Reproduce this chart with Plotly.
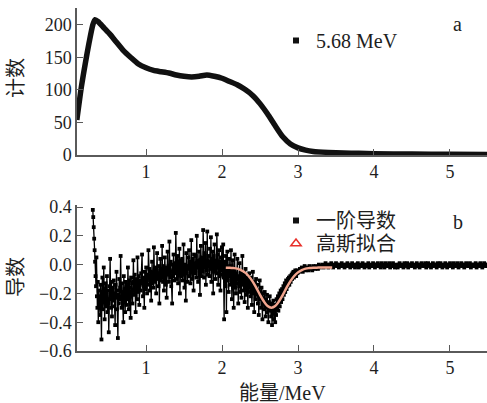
import numpy as np
import plotly.graph_objects as go

# ---- panel a: counts spectrum ----
count_energy = [0.09, 0.15, 0.20, 0.25, 0.30, 0.33, 0.37, 0.45, 0.53, 0.60, 0.70, 0.80, 0.90,
                1.00, 1.10, 1.20, 1.30, 1.40, 1.50, 1.60, 1.70, 1.80, 1.90, 2.00, 2.10, 2.20,
                2.30, 2.40, 2.50, 2.60, 2.70, 2.80, 2.90, 3.00, 3.10, 3.20, 3.40, 3.60, 3.80,
                4.00, 4.50, 5.00, 5.50]
counts = [54, 105, 140, 172, 200, 208, 205, 195, 185, 175, 161, 150, 140,
          134, 130, 128, 126, 123, 121, 120, 121, 123, 121, 118, 113, 108,
          101, 92, 79, 63, 45, 28, 17, 11, 7.5, 5.5, 4, 3, 2.5,
          2, 1.5, 1, 0.8]

# ---- panel b: first derivative (noisy region, 0.006 MeV channels) ----
deriv_low_start, deriv_low_step = 0.30, 0.006
deriv_low = [
    0.38, 0.33, 0.26, 0.18, 0.10, 0.02, -0.08, -0.15, 0.05, -0.22, -0.30, -0.12, -0.40, -0.18, -0.25,
    -0.22, -0.35, -0.14, -0.28, -0.52, -0.19, -0.09, -0.31, -0.24, -0.02, -0.17, -0.38, -0.26, -0.13, -0.29,
    -0.21, -0.08, -0.33, -0.18, -0.27, -0.47, -0.15, -0.24, 0.04, -0.19, -0.30, -0.12, -0.36, -0.22, -0.16,
    -0.25, -0.11, -0.29, -0.20, -0.42, -0.14, -0.23, -0.05, -0.31, -0.18, -0.51, -0.21, -0.27, -0.10, -0.24,
    -0.16, 0.06, -0.22, -0.30, -0.13, -0.26, -0.19, -0.40, -0.08, -0.23, -0.17, -0.33, -0.12, -0.21, -0.28,
    -0.14, -0.24, -0.02, -0.19, -0.31, -0.11, -0.22, -0.16, -0.37, -0.09, -0.20, -0.13, -0.27, -0.18, 0.03,
    -0.12, -0.21, -0.07, -0.17, -0.33, -0.10, -0.15, -0.24, 0.05, -0.13, -0.19, -0.08, -0.28, -0.14, -0.11,
    -0.18, -0.06, -0.13, 0.07, -0.10, -0.22, -0.09, -0.15, -0.30, -0.05, -0.12, -0.17, -0.02, -0.11, -0.20,
    -0.07, -0.14, 0.10, -0.09, -0.03, -0.18, -0.11, -0.05, -0.25, -0.08, 0.02, -0.13, -0.06, -0.16, 0.12,
    -0.05, -0.12, -0.02, -0.09, -0.20, -0.04, 0.08, -0.10, -0.06, -0.15, -0.01, -0.27, -0.07, 0.04, -0.11,
    -0.03, -0.09, 0.13, -0.06, -0.12, -0.01, -0.18, -0.04, 0.05, -0.08, -0.14, -0.02, -0.23, -0.05, 0.09,
    -0.07, -0.01, -0.12, 0.16, -0.04, -0.09, 0.02, -0.15, -0.05, -0.27, 0.00, -0.08, 0.07, -0.03, -0.11,
    0.01, -0.06, 0.22, -0.02, -0.10, -0.04, 0.06, -0.13, -0.01, -0.07, 0.11, -0.20, -0.03, 0.03, -0.08,
    -0.05, 0.04, -0.11, -0.02, 0.14, -0.07, -0.16, 0.00, -0.04, -0.25, 0.08, -0.06, -0.01, -0.12, 0.05,
    -0.03, 0.10, -0.08, 0.02, -0.13, -0.01, 0.17, -0.05, -0.10, 0.04, -0.02, -0.18, 0.07, -0.06, 0.01,
    -0.04, 0.06, -0.09, 0.20, -0.02, 0.03, -0.12, 0.00, 0.09, -0.06, -0.21, 0.02, 0.13, -0.03, -0.08,
    0.05, -0.05, 0.24, 0.01, -0.09, 0.08, -0.02, 0.15, -0.14, 0.03, -0.04, 0.23, -0.07, 0.06, -0.01,
    0.02, -0.08, 0.11, -0.03, 0.19, -0.12, 0.04, -0.01, 0.09, -0.20, 0.06, -0.05, 0.14, 0.00, -0.10,
    0.03, -0.06, 0.21, -0.02, 0.07, -0.14, -0.01, 0.10, -0.08, 0.02, -0.18, 0.05, -0.04, 0.12, -0.07,
    -0.03, 0.14, -0.09, -0.38, 0.02, -0.06, -0.15, 0.06, -0.33, -0.04, 0.09, -0.11, -0.02, -0.19, 0.04,
    -0.08, -0.01, -0.14, 0.10, -0.05, -0.24, -0.09, 0.03, -0.12, -0.30, -0.04, 0.07, -0.16, -0.07, -0.20,
    -0.06, -0.13, 0.04, -0.10, -0.27, -0.08, -0.15, 0.01, -0.19, -0.11, -0.05, -0.23, -0.09, 0.06, -0.14,
    -0.10, -0.18, -0.07, -0.26, -0.13, -0.03, -0.16, -0.21, -0.09, -0.14, -0.30, -0.11, -0.19, -0.06, -0.15,
    -0.13, -0.22, -0.09, -0.18, -0.28, -0.15, -0.05, -0.20, -0.16, -0.33, -0.12, -0.19, -0.24, -0.10, -0.17,
    -0.21, -0.14, -0.27, -0.18, -0.35, -0.22, -0.11, -0.24, -0.19, -0.30, -0.16, -0.23, -0.38, -0.20, -0.26,
    -0.25, -0.31, -0.19, -0.28, -0.36, -0.24, -0.30, -0.21, -0.33, -0.27, -0.40, -0.26, -0.32, -0.22, -0.29,
    -0.31, -0.36, -0.27, -0.42, -0.30, -0.34, -0.25, -0.38, -0.29, -0.33, -0.40, -0.28, -0.35, -0.24, -0.31,
    -0.27, -0.22, -0.32, -0.25, -0.20, -0.29, -0.23, -0.18, -0.26, -0.21, -0.17, -0.24, -0.19, -0.15, -0.21,
    -0.16, -0.13, -0.19, -0.14, -0.11, -0.17, -0.12, -0.15, -0.10, -0.13, -0.09, -0.14, -0.11, -0.08, -0.12,
    -0.09, -0.07, -0.10, -0.06, -0.08, -0.05, -0.09, -0.06, -0.07, -0.04, -0.06, -0.08, -0.05, -0.04, -0.06,
    -0.05,
]
# ---- flat tail region (0.0125 MeV channels) ----
deriv_high_start, deriv_high_step = 3.0125, 0.0125
deriv_high = [
    -0.05, -0.03, -0.04, -0.02, -0.05, -0.03, -0.01, -0.04, -0.03, -0.02, -0.04, -0.01,
    -0.03, -0.02, -0.04, -0.01, -0.02, -0.03, -0.01, -0.02, -0.03, 0.00, -0.02, -0.01,
    -0.01, 0.00, -0.02, -0.01, 0.01, -0.01, 0.00, -0.02, -0.01, 0.00, 0.01, -0.01, -0.02, 0.00, -0.01, 0.01,
    0.00, -0.01, -0.02, 0.00, -0.01, 0.01, -0.01, 0.00, -0.02, -0.01, 0.00, 0.01, -0.01, 0.00, -0.02, -0.01,
    0.01, -0.01, 0.00, -0.02, -0.01, 0.00, 0.01, -0.02, -0.01, 0.00, -0.01, 0.01, 0.00, -0.02, -0.01, 0.00,
    -0.01, 0.01, -0.02, 0.00, -0.01, -0.01, 0.01, 0.00, -0.02, 0.00, -0.01, 0.01, -0.01, 0.00, -0.02, 0.01,
    0.00, -0.01, -0.02, 0.01, -0.01, 0.00, -0.01, 0.01, -0.02, -0.01, 0.00, 0.01, -0.01, -0.02, 0.00, -0.01,
    -0.02, 0.00, 0.01, -0.01, 0.00, -0.01, -0.02, 0.01, 0.00, -0.01, 0.01, -0.02, 0.00, -0.01, 0.00, 0.01,
    -0.01, 0.00, -0.02, -0.01, 0.01, 0.00, -0.01, -0.02, 0.00, 0.01, -0.01, 0.00, -0.01, 0.01, -0.02, 0.00,
    0.01, -0.01, 0.00, -0.02, -0.01, 0.01, 0.00, -0.01, 0.00, -0.02, 0.01, -0.01, 0.00, 0.01, -0.01, -0.02,
    0.00, -0.01, 0.01, 0.00, -0.02, -0.01, 0.00, 0.01, -0.01, 0.00, -0.02, 0.01, -0.01, 0.00, -0.01, 0.01,
    -0.02, 0.00, -0.01, 0.01, 0.00, -0.01, -0.02, 0.00, 0.01, -0.01, 0.00, -0.01, 0.01, -0.02, 0.00, -0.01,
    0.00, -0.01, 0.01, -0.02, 0.00, -0.01, 0.00, 0.01, -0.01, -0.02, 0.00, 0.01, -0.01, 0.00, -0.01, 0.00,
]

# ---- gaussian fit ----
fit_energy = [2.05, 2.10, 2.15, 2.20, 2.25, 2.30, 2.35, 2.40, 2.45, 2.50, 2.55, 2.60, 2.65,
              2.70, 2.75, 2.80, 2.85, 2.90, 2.95, 3.00, 3.05, 3.10, 3.15, 3.20, 3.25,
              3.30, 3.35, 3.40, 3.45]
fit_values = [-0.021, -0.022, -0.024, -0.028, -0.038, -0.054, -0.079, -0.115, -0.160,
              -0.210, -0.255, -0.288, -0.300, -0.288, -0.255, -0.210, -0.160, -0.115,
              -0.079, -0.054, -0.038, -0.028, -0.024, -0.022, -0.021, -0.020, -0.020,
              -0.020, -0.020]

x_ticks = [1, 2, 3, 4, 5]
ya_ticks = [0, 50, 100, 150, 200]
yb_ticks = [-0.6, -0.4, -0.2, 0.0, 0.2, 0.4]

deriv_energy = np.concatenate([
    deriv_low_start + deriv_low_step * np.arange(len(deriv_low)),
    deriv_high_start + deriv_high_step * np.arange(len(deriv_high)),
])
deriv_values = deriv_low + deriv_high

SERIF = "Times New Roman, Liberation Serif, Noto Sans CJK SC"
AX = "#5a5a5a"
TXT = "#1e1e1e"

fig = go.Figure()

fig.add_trace(go.Scatter(x=count_energy, y=counts, mode="lines",
                         line=dict(color="#111", width=5.5, shape="spline", smoothing=0.6),
                         showlegend=False, xaxis="x", yaxis="y"))
fig.add_trace(go.Scatter(x=[None], y=[None], mode="markers", name="5.68 MeV",
                         marker=dict(symbol="square", size=6, color="#111"),
                         legend="legend", xaxis="x", yaxis="y"))

fig.add_trace(go.Scatter(x=deriv_energy, y=deriv_values, mode="lines+markers",
                         line=dict(color="#000", width=1.3),
                         marker=dict(symbol="square", size=3.8, color="#000"),
                         showlegend=False, xaxis="x2", yaxis="y2"))
fig.add_trace(go.Scatter(x=fit_energy, y=fit_values, mode="lines",
                         line=dict(color="#f2a58e", width=2.5, shape="spline"),
                         showlegend=False, xaxis="x2", yaxis="y2"))
fig.add_trace(go.Scatter(x=[None], y=[None], mode="markers", name="一阶导数",
                         marker=dict(symbol="square", size=6, color="#111"),
                         legend="legend2", xaxis="x2", yaxis="y2"))
fig.add_trace(go.Scatter(x=[None], y=[None], mode="markers", name="高斯拟合",
                         marker=dict(symbol="triangle-up-open", size=9, color="#e8302a",
                                     line=dict(width=1.5, color="#e8302a")),
                         legend="legend3", xaxis="x2", yaxis="y2"))

axis_common = dict(showline=True, linecolor=AX, linewidth=1.5, ticks="inside",
                   tickcolor=AX, ticklen=6, tickwidth=1.2, showgrid=False, zeroline=False,
                   tickfont=dict(family=SERIF, size=18, color=TXT))

top_dom = [(351 - 155) / 343, 1.0]
bot_dom = [0.0, (351 - 205) / 343]


def px_x(x):
    return (x - 77) / 410


def px_y(y):
    return (351 - y) / 343


def note(text, x, y, size=20, angle=0):
    return dict(text=text, x=px_x(x), y=px_y(y), xref="paper", yref="paper",
                xanchor="center", yanchor="middle", textangle=angle, showarrow=False,
                font=dict(family=SERIF, size=size, color=TXT))


legend_common = dict(xanchor="left", yanchor="top", bgcolor="rgba(0,0,0,0)",
                     font=dict(family=SERIF, size=20, color=TXT))

fig.update_layout(
    width=487, height=403,
    margin=dict(l=77, r=0, t=8, b=52),
    paper_bgcolor="white", plot_bgcolor="white",
    xaxis=dict(domain=[0, 1], range=[0.092, 5.487], tickvals=x_ticks, anchor="y", **axis_common),
    yaxis=dict(domain=top_dom, range=[0, 226], tickvals=ya_ticks, anchor="x", **axis_common),
    xaxis2=dict(domain=[0, 1], range=[0.092, 5.487], tickvals=x_ticks, anchor="y2", **axis_common),
    yaxis2=dict(domain=bot_dom, range=[-0.6, 0.414], tickvals=yb_ticks,
                tickformat=".1f", anchor="x2", **axis_common),
    legend=dict(x=px_x(276), y=px_y(21), **legend_common),
    legend2=dict(x=px_x(276), y=px_y(201), **legend_common),
    legend3=dict(x=px_x(276), y=px_y(224), **legend_common),
    annotations=[
        note("计数", 16, 78, angle=-90),
        note("导数", 16, 277, angle=-90),
        note("能量/MeV", 282, 393),
        note("a", 457, 24),
        note("b", 458, 222),
    ],
)

fig.write_html("out.html")
